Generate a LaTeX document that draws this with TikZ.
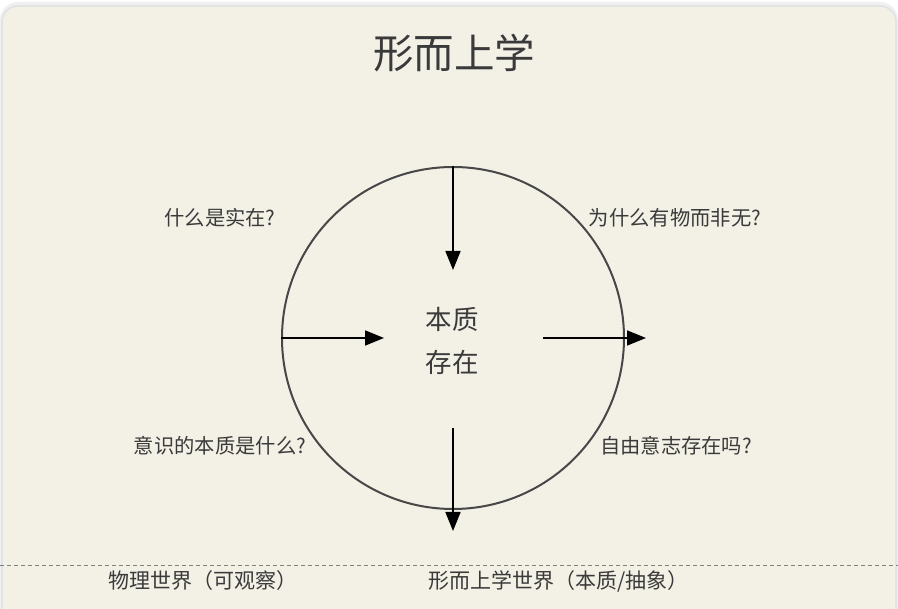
\documentclass[tikz,border=0pt]{standalone}
\usepackage{fontspec}
\setmainfont{Noto Sans CJK SC}
\usetikzlibrary{arrows.meta}
\definecolor{cardbg}{HTML}{F3F1E6}
\definecolor{inkgray}{HTML}{3A3A3A}
\definecolor{linegray}{HTML}{474747}
\begin{document}
\begin{tikzpicture}[x=1pt, y=-1pt, >={Triangle[length=19pt,width=15pt]}, line join=round,
  question/.style={text=inkgray, font=\fontsize{20.3}{24}\selectfont},
  world/.style={text=inkgray, font=\fontsize{21}{25}\selectfont, anchor=west},
  flow/.style={->, line width=1.7pt, black}]
  \useasboundingbox (0,0) rectangle (898,609);
  % page and card
  \fill[white] (0,0) rectangle (898,609);
  \fill[gray!12, rounded corners=18pt] (0,2) rectangle (898,640);
  \fill[gray!22, rounded corners=17pt] (1,5) rectangle (897,640);
  \fill[cardbg, rounded corners=15pt] (3,7) rectangle (895,640);
  % title
  \node[text=inkgray, font=\fontsize{40.5}{46}\selectfont] (title) at (454,53) {形而上学};
  % circle and centre
  \node[circle, draw=linegray, line width=2pt, minimum size=342pt, inner sep=0pt] (circ) at (453,338) {};
  \node[text=inkgray, font=\fontsize{26.5}{43}\selectfont, align=center] (core) at (452,341) {本质\\存在};
  \coordinate (tipN) at (453,270);
  \coordinate (tipW) at (384,338);
  \coordinate (startE) at (543,338);
  \coordinate (tipE) at (646,338);
  \coordinate (startS) at (453,428);
  \coordinate (tipS) at (453,531);
  \draw[flow] (circ.north) -- (tipN);
  \draw[flow] (circ.west) -- (tipW);
  \draw[flow] (startE) -- (tipE);
  \draw[flow] (startS) -- (tipS);
  % questions
  \node[question] (qa) at (220,218) {什么是实在?};
  \node[question] (qb) at (675,218) {为什么有物而非无?};
  \node[question] (qc) at (220,446) {意识的本质是什么?};
  \node[question] (qd) at (676,446) {自由意志存在吗?};
  % worlds
  \coordinate (sepL) at (0,565);
  \coordinate (sepR) at (898,565);
  \draw[dashed, gray, line width=0.9pt, dash pattern=on 4pt off 3pt] (sepL) -- (sepR);
  \node[world] (phys) at (105,581) {物理世界（可观察）};
  \node[world] (meta) at (425,581) {形而上学世界（本质/抽象）};
\end{tikzpicture}
\end{document}
